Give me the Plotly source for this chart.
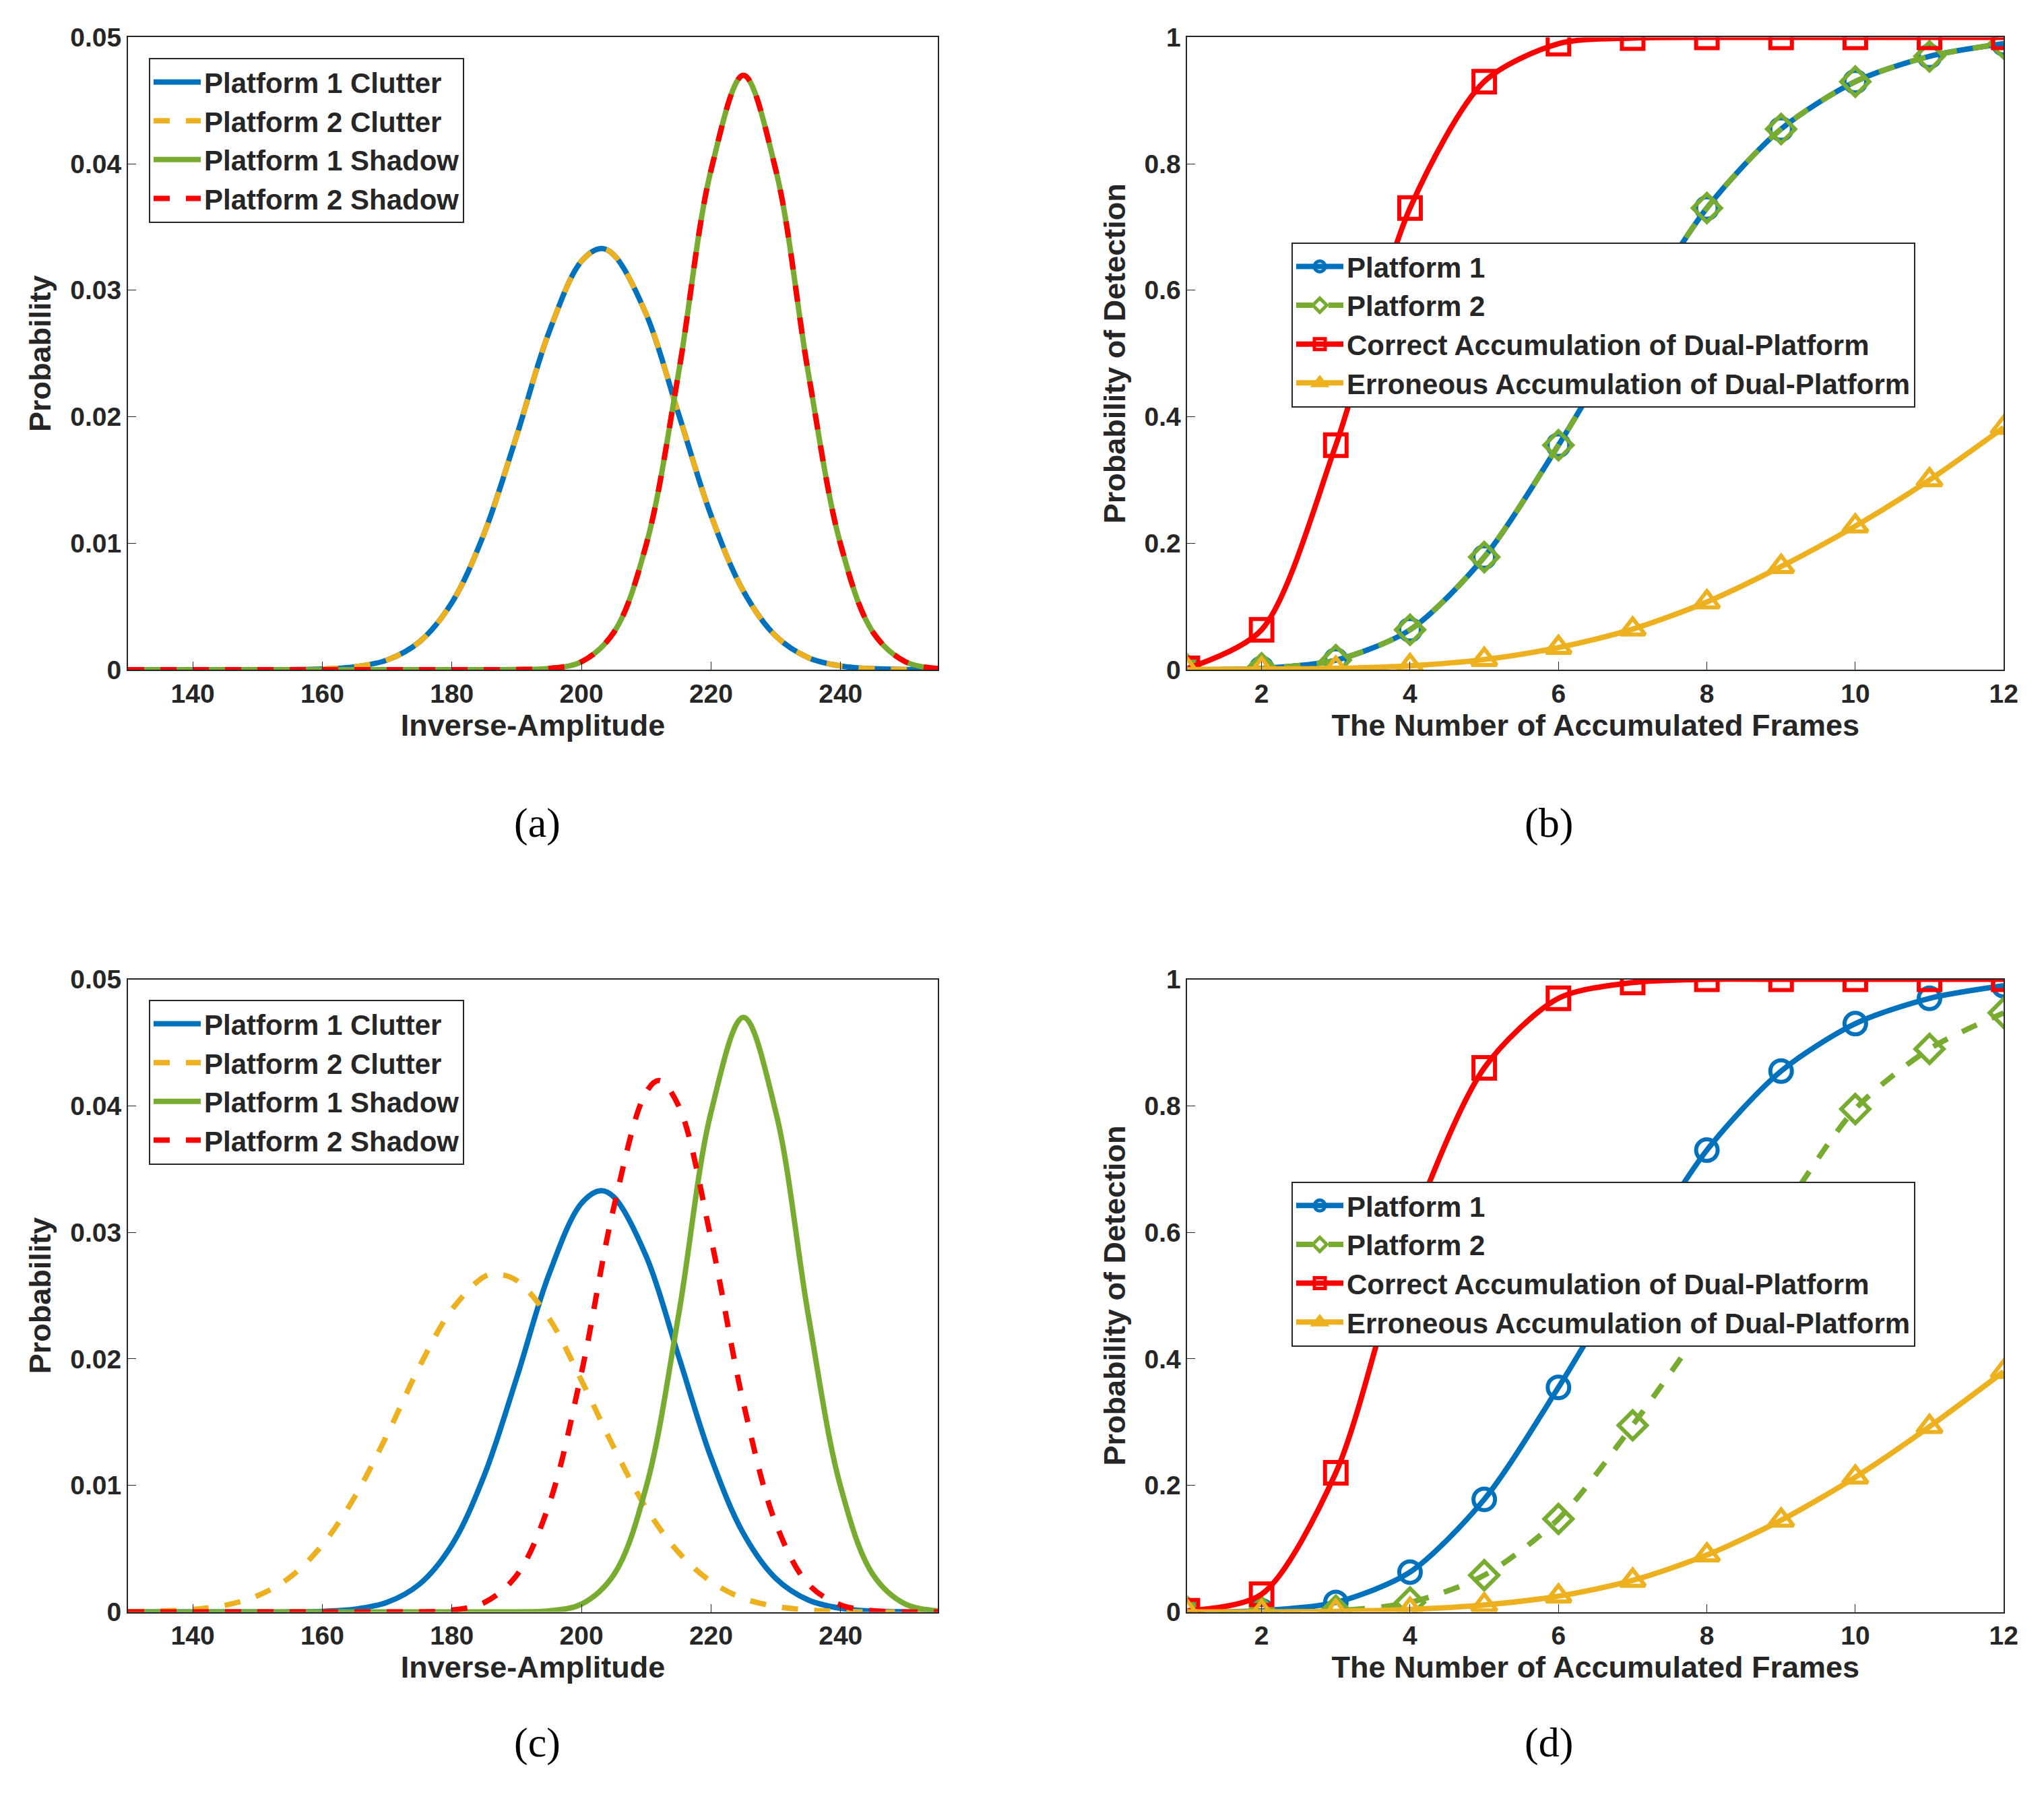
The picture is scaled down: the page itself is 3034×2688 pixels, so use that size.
import plotly.graph_objects as go

# ---- dados ----
amp_c1 = [130, 135, 140, 145, 150, 155, 160, 165, 170, 175, 180, 185, 190, 195, 200, 203, 205, 210, 215, 220, 225, 230, 235, 240, 245, 250, 255]
p1_clutter = [0, 0, 0, 0, 0, 0, 0.00005, 0.00022, 0.00076, 0.0022, 0.0053, 0.0108, 0.0185, 0.0267, 0.0323, 0.0333, 0.0328, 0.0281, 0.0202, 0.0122, 0.0062, 0.00265, 0.00095, 0.00029, 0.00007, 0.00001, 0]

amp_s1 = [130, 140, 150, 160, 170, 180, 185, 190, 195, 200, 205, 210, 215, 220, 225, 230, 235, 240, 245, 250, 255]
p1_shadow = [0, 0, 0, 0, 0, 0, 0, 0.00001, 0.00009, 0.00062, 0.00295, 0.0099, 0.0235, 0.0395, 0.047, 0.0395, 0.0235, 0.0099, 0.00295, 0.00062, 0.00009]

amp_c2 = [130, 135, 140, 145, 150, 155, 160, 165, 170, 175, 180, 185, 187, 190, 195, 200, 205, 210, 215, 220, 225, 230, 235, 240, 245, 250, 255]
p2_clutter_c = [0.00002, 0.00007, 0.0002, 0.00053, 0.00128, 0.00274, 0.0053, 0.0091, 0.0140, 0.0194, 0.0239, 0.0265, 0.0267, 0.0262, 0.0232, 0.0183, 0.0130, 0.0082, 0.0047, 0.0024, 0.00107, 0.00044, 0.00016, 0.00005, 0, 0, 0]

amp_s2 = [130, 140, 150, 160, 170, 175, 180, 185, 190, 195, 200, 205, 210, 212, 215, 220, 225, 230, 235, 240, 245, 250, 255]
p2_shadow_c = [0, 0, 0, 0, 0, 0.00001, 0.00014, 0.00074, 0.0029, 0.0085, 0.0189, 0.0320, 0.0411, 0.042, 0.0400, 0.0295, 0.0165, 0.0070, 0.0022, 0.00055, 0.0001, 0, 0]

frames = [1, 2, 3, 4, 5, 6, 7, 8, 9, 10, 11, 12]
pd_p1 = [0, 0.002, 0.015, 0.063, 0.178, 0.355, 0.55, 0.73, 0.855, 0.93, 0.97, 0.99]
pd_p2_b = [0, 0.002, 0.015, 0.063, 0.178, 0.355, 0.55, 0.73, 0.855, 0.93, 0.97, 0.99]
pd_correct_b = [0.002, 0.063, 0.355, 0.73, 0.93, 0.99, 0.999, 1, 1, 1, 1, 1]
pd_wrong_b = [0, 0.001, 0.002, 0.006, 0.016, 0.035, 0.064, 0.107, 0.163, 0.227, 0.30, 0.383]

pd_p2_d = [0, 0, 0.002, 0.015, 0.058, 0.147, 0.295, 0.46, 0.63, 0.795, 0.89, 0.947]
pd_correct_d = [0.002, 0.028, 0.22, 0.6, 0.86, 0.97, 0.995, 1, 1, 1, 1, 1]
pd_wrong_d = [0, 0, 0.001, 0.004, 0.011, 0.025, 0.05, 0.09, 0.145, 0.213, 0.293, 0.38]

BLUE, YEL, GRN, RED = '#0072BD', '#EDB120', '#77AC30', '#FF0000'
LW = 8

fig = go.Figure()

dom_x = [[0.0604, 0.4595], [0.5825, 0.9848]]
dom_y = [[0.6352, 0.990], [0.1064, 0.4614]]
ax_names = [('x', 'y'), ('x2', 'y2'), ('x3', 'y3'), ('x4', 'y4')]
leg_names = ['legend', 'legend2', 'legend3', 'legend4']


def pdf_panel(i, c2, s2):
    xa, ya = ax_names[i]
    lg = leg_names[i]
    fig.add_trace(go.Scatter(x=amp_c1, y=p1_clutter, name='Platform 1 Clutter', mode='lines', line=dict(color=BLUE, width=LW, shape='spline'), xaxis=xa, yaxis=ya, legend=lg))
    fig.add_trace(go.Scatter(x=amp_c2 if c2 is not p1_clutter else amp_c1, y=c2, name='Platform 2 Clutter', mode='lines', line=dict(color=YEL, width=LW, dash='dash', shape='spline'), xaxis=xa, yaxis=ya, legend=lg))
    fig.add_trace(go.Scatter(x=amp_s1, y=p1_shadow, name='Platform 1 Shadow', mode='lines', line=dict(color=GRN, width=LW, shape='spline'), xaxis=xa, yaxis=ya, legend=lg))
    fig.add_trace(go.Scatter(x=amp_s2 if s2 is not p1_shadow else amp_s1, y=s2, name='Platform 2 Shadow', mode='lines', line=dict(color=RED, width=LW, dash='dash', shape='spline'), xaxis=xa, yaxis=ya, legend=lg))


def pd_panel(i, p2, corr, wrong):
    xa, ya = ax_names[i]
    lg = leg_names[i]
    specs = [('Platform 1', pd_p1, BLUE, 'solid', 'circle-open'),
             ('Platform 2', p2, GRN, 'dash', 'diamond-open'),
             ('Correct Accumulation of Dual-Platform', corr, RED, 'solid', 'square-open'),
             ('Erroneous Accumulation of Dual-Platform', wrong, YEL, 'solid', 'triangle-up-open')]
    for name, vals, col, dash, sym in specs:
        fig.add_trace(go.Scatter(x=frames, y=vals, name=name, mode='lines+markers',
                                 line=dict(color=col, width=LW, dash=dash, shape='spline', smoothing=0.8),
                                 marker=dict(symbol=sym, size=32, color=col, line=dict(width=6, color=col)),
                                 xaxis=xa, yaxis=ya, legend=lg))


pdf_panel(0, p1_clutter, p1_shadow)
pd_panel(1, pd_p2_b, pd_correct_b, pd_wrong_b)
pdf_panel(2, p2_clutter_c, p2_shadow_c)
pd_panel(3, pd_p2_d, pd_correct_d, pd_wrong_d)

tickf = dict(size=39, color='#262626', family='Liberation Sans', weight='bold')
titf = dict(size=45, color='#262626', family='Liberation Sans', weight='bold')
common = dict(showline=True, mirror=True, linecolor='#262626', linewidth=2, ticks='inside',
              ticklen=12, tickcolor='#262626', showgrid=False, zeroline=False, tickfont=tickf)

layout = dict(width=3034, height=2688, margin=dict(l=0, r=0, t=0, b=0),
              paper_bgcolor='white', plot_bgcolor='white')

for i in range(4):
    col, row = i % 2, i // 2
    xk = 'xaxis' if i == 0 else 'xaxis%d' % (i + 1)
    yk = 'yaxis' if i == 0 else 'yaxis%d' % (i + 1)
    anchor_x, anchor_y = ax_names[i]
    if col == 0:
        xa = dict(range=[130, 255], tickvals=[140, 160, 180, 200, 220, 240],
                  title=dict(text='Inverse-Amplitude', font=titf, standoff=10))
        ya = dict(range=[0, 0.05], tickvals=[0, 0.01, 0.02, 0.03, 0.04, 0.05],
                  ticktext=['0', '0.01', '0.02', '0.03', '0.04', '0.05'],
                  title=dict(text='Probability', font=titf, standoff=14))
    else:
        xa = dict(range=[1, 12], tickvals=[2, 4, 6, 8, 10, 12],
                  title=dict(text='The Number of Accumulated Frames', font=titf, standoff=10))
        ya = dict(range=[0, 1], tickvals=[0, 0.2, 0.4, 0.6, 0.8, 1],
                  ticktext=['0', '0.2', '0.4', '0.6', '0.8', '1'],
                  title=dict(text='Probability of Detection', font=titf, standoff=14))
    xa.update(common, domain=dom_x[col], anchor=anchor_y)
    ya.update(common, domain=dom_y[row], anchor=anchor_x)
    layout[xk] = xa
    layout[yk] = ya

leg_pos = [(0.0707, 0.9785), (0.6338, 0.875), (0.0707, 0.450), (0.6338, 0.348)]
for i, (lx, ly) in enumerate(leg_pos):
    layout[leg_names[i]] = dict(x=lx, y=ly, xanchor='left', yanchor='top', bgcolor='white',
                                bordercolor='#262626', borderwidth=2, tracegroupgap=0,
                                font=dict(size=42, color='#262626', family='Liberation Sans', weight='bold'),
                                itemwidth=70)

fig.update_layout(**layout)

caps = [('(a)', 0.250, 0.549), ('(b)', 0.7734, 0.549),
        ('(c)', 0.250, 0.0193), ('(d)', 0.7734, 0.0193)]
for txt, cx, cy in caps:
    fig.add_annotation(text=txt, x=cx, y=cy, xref='paper', yref='paper', showarrow=False,
                       font=dict(size=62, color='black', family='Liberation Serif'))

fig.write_html("out.html")
